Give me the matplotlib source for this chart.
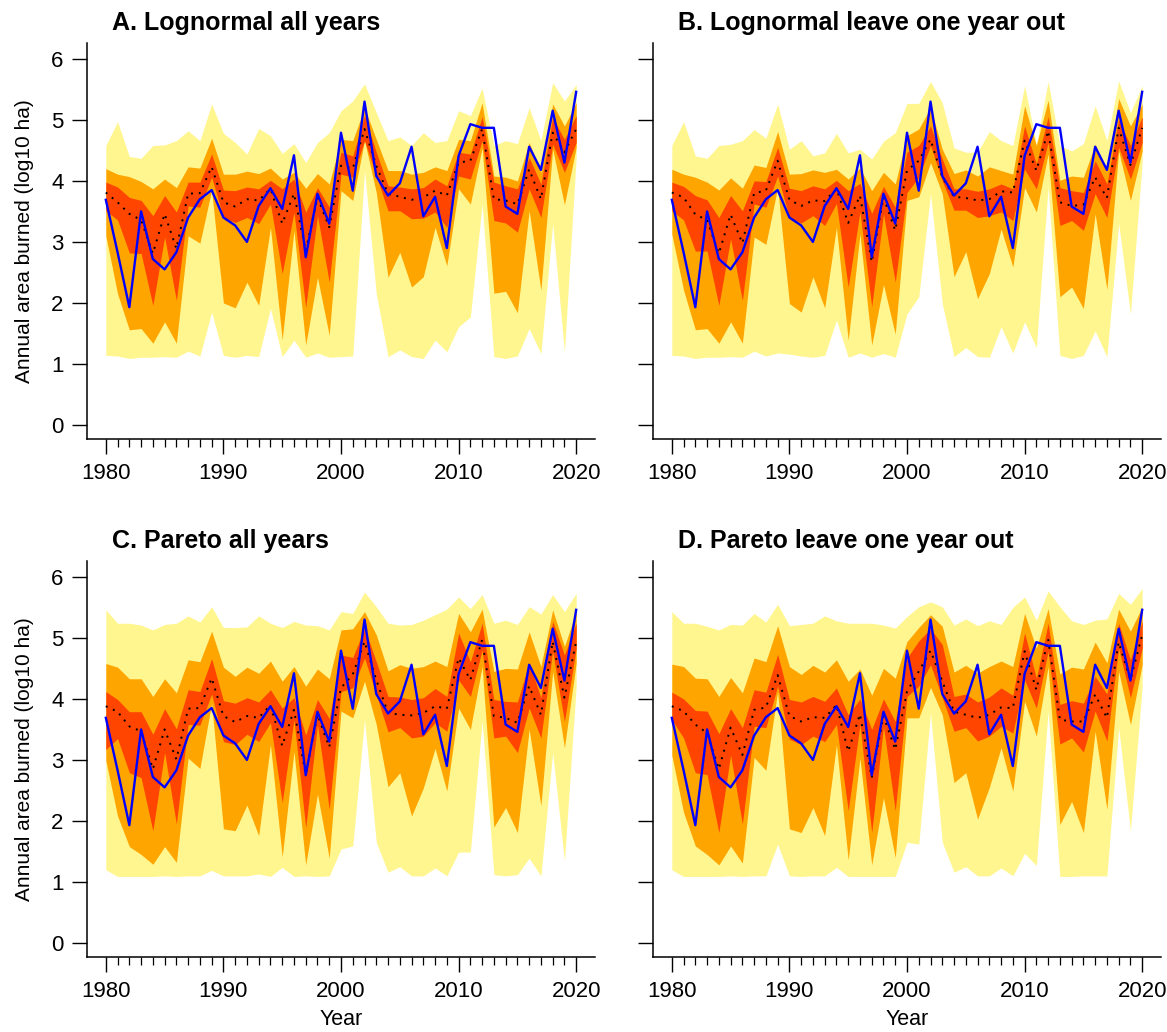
import matplotlib
matplotlib.use("Agg")
from matplotlib import pyplot as plt
from matplotlib.ticker import FixedLocator

plt.rcParams['font.family'] = ['Liberation Sans', 'DejaVu Sans']

years = list(range(1980, 2021))

# observed annual area burned (log10 ha), same in every panel
observed = [3.69, 2.83, 1.93, 3.50, 2.72, 2.55, 2.83, 3.40, 3.70, 3.85,
            3.40, 3.27, 3.00, 3.59, 3.88, 3.54, 4.42, 2.75, 3.79, 3.30,
            4.79, 3.84, 5.30, 4.08, 3.76, 3.96, 4.56, 3.42, 3.74, 2.90,
            4.41, 4.93, 4.87, 4.87, 3.58, 3.46, 4.56, 4.18, 5.15, 4.30, 5.46]

# A. Lognormal all years
a_outer_hi = [4.58, 4.97, 4.40, 4.37, 4.58, 4.59, 4.66, 4.82, 4.66, 5.26,
              4.78, 4.63, 4.44, 4.86, 4.74, 4.45, 4.61, 4.30, 4.63, 4.79,
              5.15, 5.31, 5.59, 5.12, 4.66, 4.72, 4.58, 4.79, 4.63, 4.66,
              5.15, 5.07, 5.52, 4.58, 4.66, 4.61, 5.20, 4.66, 5.61, 5.31, 5.58]
a_outer_lo = [1.14, 1.13, 1.09, 1.11, 1.11, 1.12, 1.11, 1.21, 1.13, 1.85,
              1.14, 1.11, 1.14, 1.12, 1.91, 1.12, 1.39, 1.11, 1.18, 1.11,
              1.12, 1.13, 4.17, 2.15, 1.12, 1.23, 1.12, 1.09, 1.39, 1.20,
              1.61, 1.77, 3.62, 1.12, 1.09, 1.13, 1.58, 1.17, 3.30, 1.20, 4.38]
a_mid_hi = [4.20, 4.11, 4.07, 3.99, 3.87, 4.03, 3.89, 4.23, 4.21, 4.70,
            4.11, 4.11, 4.16, 4.12, 4.21, 4.03, 4.14, 3.88, 4.12, 3.95,
            4.68, 4.66, 5.20, 4.68, 4.17, 4.17, 4.11, 4.14, 4.23, 4.17,
            4.68, 4.66, 5.28, 4.08, 4.06, 4.00, 4.63, 4.14, 5.26, 4.90, 5.28]
a_mid_lo = [3.10, 2.15, 1.56, 1.58, 1.34, 1.69, 1.34, 3.10, 2.98, 3.85,
            2.00, 1.92, 2.34, 1.96, 3.24, 1.40, 3.19, 1.31, 2.42, 1.47,
            3.84, 3.68, 4.66, 3.81, 2.42, 2.83, 2.26, 2.43, 3.24, 2.61,
            3.87, 3.62, 4.54, 2.16, 2.19, 1.84, 3.51, 2.21, 4.52, 3.61, 4.55]
a_inner_hi = [3.98, 3.90, 3.73, 3.68, 3.43, 3.76, 3.49, 3.98, 3.98, 4.44,
              3.85, 3.84, 3.90, 3.87, 4.01, 3.87, 4.03, 3.49, 3.89, 3.57,
              4.47, 4.41, 5.07, 4.47, 3.92, 3.90, 3.87, 3.89, 4.03, 3.92,
              4.47, 4.44, 5.05, 3.98, 3.92, 3.87, 4.38, 3.95, 5.04, 4.68, 5.07]
a_inner_lo = [3.51, 3.36, 2.82, 2.81, 1.96, 3.08, 2.04, 3.59, 3.57, 4.06,
              3.40, 3.32, 3.40, 3.30, 3.62, 2.48, 3.49, 1.93, 3.43, 2.34,
              4.11, 4.06, 4.66, 4.08, 3.51, 3.51, 3.38, 3.39, 3.49, 3.24,
              4.08, 4.03, 4.66, 3.35, 3.31, 3.16, 3.87, 3.40, 4.60, 4.14, 4.63]
a_median = [3.81, 3.65, 3.46, 3.36, 2.81, 3.46, 2.89, 3.79, 3.80, 4.23,
            3.65, 3.58, 3.70, 3.68, 3.87, 3.30, 3.79, 2.86, 3.73, 3.24,
            4.25, 4.20, 4.85, 4.25, 3.79, 3.74, 3.69, 3.73, 3.84, 3.76,
            4.30, 4.33, 4.85, 3.70, 3.68, 3.62, 4.19, 3.70, 4.79, 4.47, 4.85]

# B. Lognormal leave one year out
b_outer_hi = [4.58, 4.97, 4.41, 4.37, 4.58, 4.60, 4.66, 4.84, 4.70, 5.26,
              4.52, 4.66, 4.41, 4.46, 4.78, 4.46, 4.52, 4.36, 4.65, 4.79,
              5.27, 5.27, 5.63, 5.28, 4.54, 4.47, 4.47, 4.81, 4.66, 4.58,
              5.56, 4.60, 5.63, 4.58, 4.49, 4.61, 5.23, 4.66, 5.64, 5.12, 5.56]
b_outer_lo = [1.14, 1.13, 1.09, 1.11, 1.11, 1.12, 1.11, 1.21, 1.13, 1.18,
              1.16, 1.13, 1.11, 1.14, 1.72, 1.11, 1.18, 1.11, 1.17, 1.11,
              1.82, 2.10, 3.79, 1.99, 1.12, 1.27, 1.12, 1.11, 1.61, 1.18,
              1.69, 1.27, 3.90, 1.14, 1.09, 1.14, 1.54, 1.12, 3.30, 1.82, 4.30]
b_mid_hi = [4.19, 4.11, 4.06, 3.98, 3.85, 4.05, 3.88, 4.26, 4.22, 4.81,
            4.11, 4.12, 4.18, 4.14, 4.19, 4.03, 4.21, 3.84, 4.14, 3.95,
            4.74, 4.85, 5.20, 4.52, 4.12, 4.18, 4.08, 4.23, 4.17, 4.11,
            5.23, 4.58, 5.32, 4.01, 4.08, 4.06, 4.60, 4.17, 5.35, 4.90, 5.26]
b_mid_lo = [3.13, 2.21, 1.56, 1.58, 1.34, 1.69, 1.34, 3.08, 2.96, 3.89,
            1.99, 1.85, 2.43, 1.92, 3.24, 1.39, 3.13, 1.31, 2.30, 1.49,
            3.68, 3.74, 4.30, 3.79, 2.43, 2.84, 2.07, 2.48, 3.21, 2.59,
            3.89, 3.49, 4.44, 2.10, 2.26, 1.91, 3.46, 2.22, 4.49, 3.68, 4.49]
b_inner_hi = [3.98, 3.91, 3.76, 3.69, 3.40, 3.76, 3.51, 4.00, 3.99, 4.55,
              3.88, 3.84, 3.92, 3.87, 4.01, 3.84, 3.96, 3.47, 3.91, 3.57,
              4.47, 4.58, 4.90, 4.36, 3.87, 3.87, 3.83, 3.87, 3.95, 3.87,
              4.90, 4.28, 5.05, 3.89, 3.84, 3.81, 4.33, 3.95, 5.01, 4.58, 5.05]
b_inner_lo = [3.51, 3.36, 2.85, 2.85, 1.96, 3.05, 2.04, 3.62, 3.57, 4.08,
              3.40, 3.31, 3.43, 3.27, 3.63, 2.26, 3.49, 1.94, 3.46, 2.34,
              3.81, 4.06, 4.58, 4.00, 3.52, 3.52, 3.40, 3.43, 3.49, 3.35,
              4.19, 3.87, 4.63, 3.27, 3.35, 3.19, 3.79, 3.40, 4.55, 4.03, 4.63]
b_median = [3.81, 3.73, 3.45, 3.36, 2.81, 3.45, 2.98, 3.80, 3.84, 4.33,
            3.69, 3.59, 3.68, 3.67, 3.87, 3.31, 3.76, 2.67, 3.73, 3.19,
            4.17, 4.33, 4.68, 4.06, 3.74, 3.72, 3.68, 3.70, 3.83, 3.81,
            4.66, 4.17, 4.82, 3.65, 3.59, 3.61, 4.06, 3.72, 4.87, 4.26, 4.87]

# C. Pareto all years
c_outer_hi = [5.46, 5.24, 5.24, 5.21, 5.13, 5.22, 5.24, 5.36, 5.26, 5.51,
              5.17, 5.17, 5.18, 5.36, 5.24, 5.17, 5.27, 5.21, 5.20, 5.13,
              5.43, 5.40, 5.75, 5.51, 5.24, 5.21, 5.22, 5.29, 5.38, 5.47,
              5.67, 5.48, 5.71, 5.24, 5.29, 5.22, 5.51, 5.39, 5.71, 5.43, 5.73]
c_outer_lo = [1.20, 1.09, 1.09, 1.09, 1.09, 1.10, 1.09, 1.10, 1.10, 1.19,
              1.10, 1.10, 1.10, 1.13, 1.09, 1.24, 1.09, 1.10, 1.09, 1.10,
              1.54, 1.59, 3.66, 1.65, 1.16, 1.25, 1.10, 1.10, 1.23, 1.10,
              1.49, 1.49, 3.63, 1.12, 1.10, 1.12, 1.39, 1.10, 3.12, 1.35, 4.20]
c_mid_hi = [4.58, 4.52, 4.33, 4.33, 4.04, 4.33, 4.10, 4.64, 4.61, 5.11,
            4.52, 4.37, 4.52, 4.42, 4.62, 4.29, 4.53, 4.21, 4.49, 4.33,
            5.13, 5.15, 5.43, 5.05, 4.46, 4.56, 4.50, 4.53, 4.62, 4.53,
            5.40, 5.10, 5.47, 4.45, 4.50, 4.49, 5.10, 4.53, 5.46, 4.86, 5.43]
c_mid_lo = [2.99, 2.08, 1.58, 1.45, 1.29, 1.58, 1.32, 3.03, 2.86, 3.93,
            1.87, 1.84, 2.26, 1.76, 3.25, 1.41, 3.14, 1.28, 2.44, 1.39,
            3.80, 3.69, 4.29, 3.58, 2.56, 2.79, 2.08, 2.54, 3.19, 2.49,
            3.85, 3.50, 4.53, 1.90, 2.22, 1.81, 3.50, 2.25, 4.45, 3.20, 4.59]
c_inner_hi = [4.12, 3.99, 3.79, 3.79, 3.42, 3.84, 3.51, 4.15, 4.12, 4.66,
              3.97, 3.93, 4.02, 3.95, 4.15, 3.85, 4.02, 3.41, 3.99, 3.68,
              4.72, 4.68, 5.16, 4.61, 4.04, 4.03, 3.99, 4.02, 4.17, 4.04,
              5.08, 4.61, 5.24, 3.99, 3.96, 3.95, 4.59, 4.02, 5.27, 4.72, 5.24]
c_inner_lo = [3.17, 3.35, 2.79, 2.71, 1.84, 3.12, 1.95, 3.58, 3.57, 4.08,
              3.30, 3.25, 3.42, 3.30, 3.61, 2.30, 3.66, 1.89, 3.58, 2.19,
              4.12, 4.18, 4.67, 4.07, 3.46, 3.53, 3.36, 3.39, 3.61, 3.47,
              4.31, 4.04, 4.80, 3.36, 3.39, 3.12, 3.85, 3.36, 4.78, 3.63, 4.83]
c_median = [3.88, 3.79, 3.55, 3.47, 2.85, 3.50, 3.01, 3.84, 3.85, 4.34,
            3.72, 3.62, 3.72, 3.69, 3.90, 3.23, 3.82, 2.76, 3.74, 3.21,
            4.18, 4.40, 4.94, 4.31, 3.77, 3.74, 3.73, 3.77, 3.88, 3.84,
            4.67, 4.31, 4.97, 3.72, 3.69, 3.61, 4.21, 3.74, 4.94, 4.02, 4.94]

# D. Pareto leave one year out
d_outer_hi = [5.43, 5.24, 5.24, 5.19, 5.13, 5.22, 5.21, 5.40, 5.26, 5.55,
              5.20, 5.22, 5.24, 5.36, 5.28, 5.24, 5.24, 5.24, 5.21, 5.16,
              5.35, 5.51, 5.59, 5.51, 5.21, 5.31, 5.20, 5.28, 5.22, 5.50,
              5.67, 5.29, 5.77, 5.51, 5.28, 5.22, 5.29, 5.31, 5.73, 5.55, 5.81]
d_outer_lo = [1.20, 1.09, 1.09, 1.09, 1.09, 1.10, 1.09, 1.10, 1.10, 1.62,
              1.10, 1.09, 1.10, 1.10, 1.24, 1.09, 1.09, 1.09, 1.09, 1.09,
              1.65, 1.62, 3.77, 1.65, 1.16, 1.25, 1.10, 1.10, 1.23, 1.10,
              1.47, 1.27, 3.80, 1.09, 1.09, 1.10, 1.10, 1.10, 3.53, 1.84, 4.20]
d_mid_hi = [4.57, 4.53, 4.34, 4.33, 4.04, 4.35, 4.10, 4.67, 4.61, 5.20,
            4.53, 4.40, 4.55, 4.44, 4.64, 4.29, 4.49, 4.06, 4.50, 4.34,
            4.94, 5.17, 5.38, 5.19, 4.44, 4.55, 4.42, 4.53, 4.62, 4.53,
            5.40, 4.83, 5.48, 4.41, 4.52, 4.49, 4.93, 4.59, 5.47, 5.11, 5.51]
d_mid_lo = [3.08, 2.14, 1.59, 1.45, 1.28, 1.59, 1.31, 3.04, 2.83, 4.12,
            1.87, 1.81, 2.22, 1.76, 3.25, 1.36, 3.03, 1.28, 2.38, 1.40,
            3.69, 3.69, 4.19, 3.74, 2.63, 2.79, 2.03, 2.55, 3.20, 2.49,
            3.96, 3.39, 4.53, 1.94, 2.32, 1.81, 3.47, 2.19, 4.45, 3.58, 4.56]
d_inner_hi = [4.11, 4.00, 3.81, 3.80, 3.43, 3.84, 3.53, 4.15, 4.11, 4.73,
              3.99, 3.95, 4.04, 3.96, 4.18, 3.74, 4.00, 3.50, 4.00, 3.63,
              4.67, 4.95, 5.15, 4.89, 4.04, 4.08, 3.95, 4.03, 4.18, 4.06,
              5.08, 4.34, 5.24, 3.91, 3.97, 3.93, 4.37, 4.08, 5.24, 4.64, 5.27]
d_inner_lo = [3.66, 3.36, 2.79, 2.76, 1.81, 3.08, 1.95, 3.55, 3.53, 4.21,
              3.34, 3.25, 3.39, 3.30, 3.58, 2.17, 3.58, 1.81, 3.55, 2.17,
              4.04, 4.21, 4.56, 4.02, 3.47, 3.53, 3.31, 3.39, 3.55, 3.44,
              4.31, 3.85, 4.78, 3.26, 3.36, 3.13, 3.80, 3.31, 4.83, 4.02, 4.83]
d_median = [3.88, 3.80, 3.58, 3.44, 2.85, 3.53, 3.08, 3.82, 3.86, 4.39,
            3.72, 3.63, 3.70, 3.69, 3.90, 3.14, 3.75, 2.71, 3.72, 3.17,
            4.12, 4.45, 4.79, 4.29, 3.79, 3.74, 3.69, 3.74, 3.86, 3.85,
            4.78, 4.15, 4.98, 3.66, 3.63, 3.63, 4.07, 3.69, 4.93, 4.31, 5.05]

panels = [
    ("A. Lognormal all years", a_outer_lo, a_outer_hi, a_mid_lo, a_mid_hi, a_inner_lo, a_inner_hi, a_median),
    ("B. Lognormal leave one year out", b_outer_lo, b_outer_hi, b_mid_lo, b_mid_hi, b_inner_lo, b_inner_hi, b_median),
    ("C. Pareto all years", c_outer_lo, c_outer_hi, c_mid_lo, c_mid_hi, c_inner_lo, c_inner_hi, c_median),
    ("D. Pareto leave one year out", d_outer_lo, d_outer_hi, d_mid_lo, d_mid_hi, d_inner_lo, d_inner_hi, d_median),
]

W, H = 1167, 1032
fig = plt.figure(figsize=(W / 100, H / 100), dpi=100)

# axes boxes in pixels: left, top (width and height shared)
boxes = [(87, 43), (653, 43), (87, 561), (653, 561)]
aw, ah = 508, 396

for i, (title, olo, ohi, mlo, mhi, ilo, ihi, med) in enumerate(panels):
    left, top = boxes[i]
    ax = fig.add_axes([left / W, 1 - (top + ah) / H, aw / W, ah / H])
    ax.fill_between(years, olo, ohi, color="#FFF68F", lw=0)
    ax.fill_between(years, mlo, mhi, color="#FFA500", lw=0)
    ax.fill_between(years, ilo, ihi, color="#FF4500", lw=0)
    ax.plot(years, med, color="black", lw=1.4, dashes=(1, 3))
    ax.plot(years, observed, color="blue", lw=1.7)

    ax.set_xlim(1978.4, 2021.6)
    ax.set_ylim(-0.23, 6.26)
    for s in ("top", "right"):
        ax.spines[s].set_visible(False)
    for s in ("left", "bottom"):
        ax.spines[s].set_linewidth(1.1)
    ax.set_xticks([1980, 1990, 2000, 2010, 2020])
    ax.xaxis.set_minor_locator(FixedLocator(years))
    ax.set_yticks(range(7))
    ax.tick_params(axis="both", which="major", length=11, width=1.0, labelsize=16, pad=6)
    ax.tick_params(axis="x", which="minor", length=6, width=0.9)
    if i % 2 == 1:
        ax.set_yticklabels([])
    else:
        ax.set_ylabel("Annual area burned (log10 ha)", fontsize=15, labelpad=12)
    if i >= 2:
        ax.set_xlabel("Year", fontsize=15.5, labelpad=5)
    ax.text(25 / aw, 1 + 20 / ah, title, transform=ax.transAxes, fontsize=18,
            fontweight="bold", ha="left", va="center")

fig.savefig("out.png", dpi=100)
